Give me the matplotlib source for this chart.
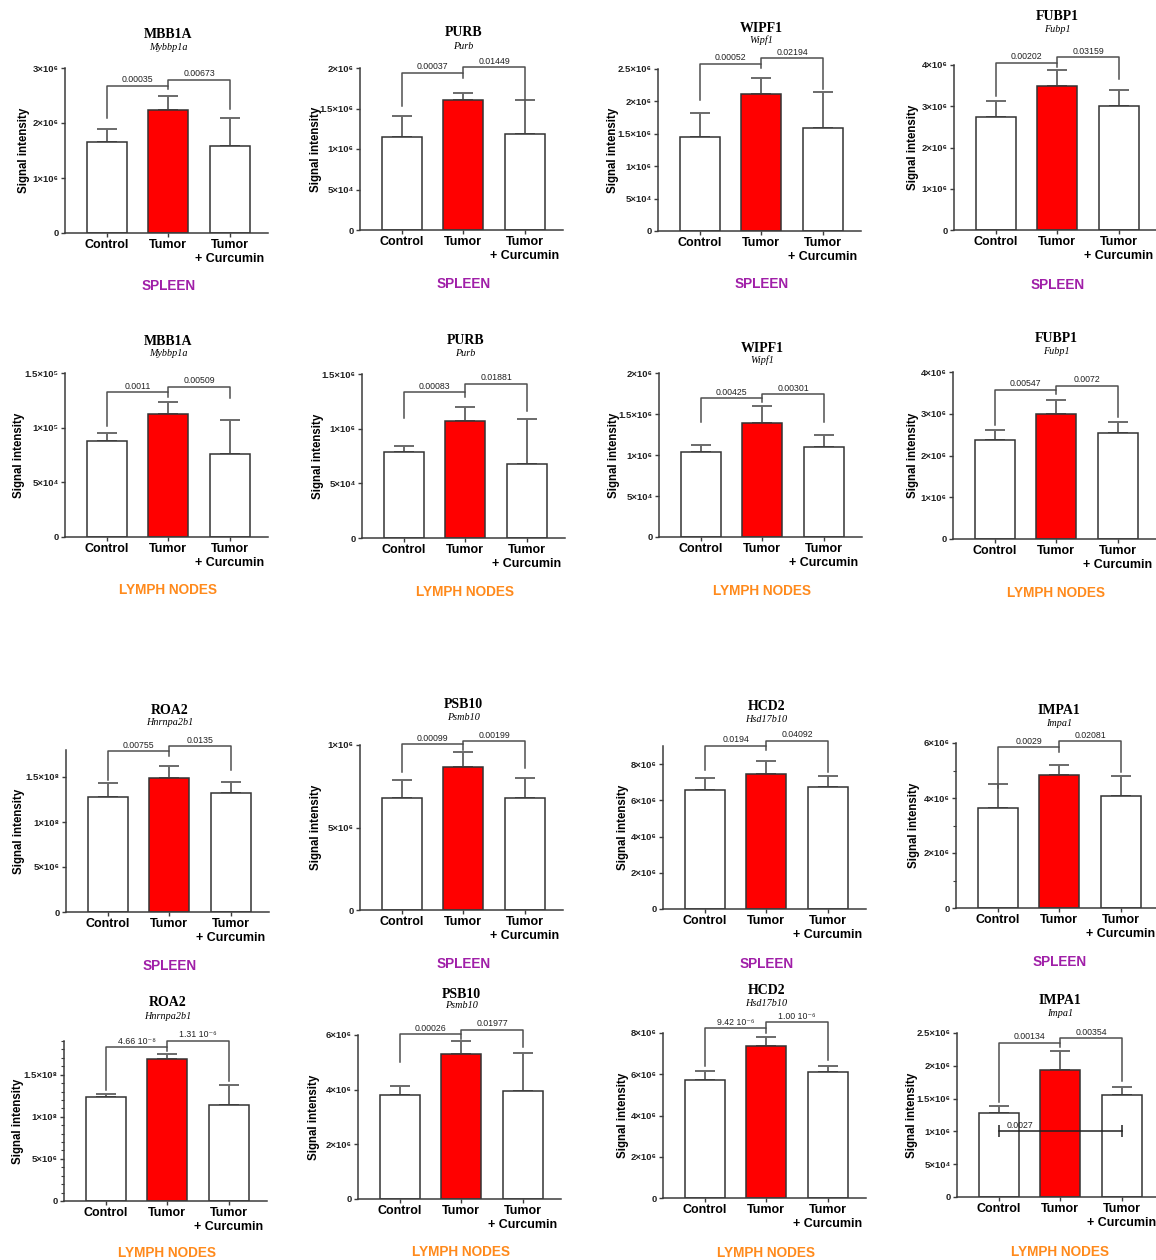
import numpy as np
import matplotlib
matplotlib.use('Agg')
import matplotlib.pyplot as plt
from matplotlib.ticker import MultipleLocator

W, H = 1156, 1260

# panels read row by row (4 columns x 4 rows)
proteins = ['MBB1A', 'PURB', 'WIPF1', 'FUBP1',
            'MBB1A', 'PURB', 'WIPF1', 'FUBP1',
            'ROA2', 'PSB10', 'HCD2', 'IMPA1',
            'ROA2', 'PSB10', 'HCD2', 'IMPA1']
genes = ['Mybbp1a', 'Purb', 'Wipf1', 'Fubp1',
         'Mybbp1a', 'Purb', 'Wipf1', 'Fubp1',
         'Hnrnpa2b1', 'Psmb10', 'Hsd17b10', 'Impa1',
         'Hnrnpa2b1', 'Psmb10', 'Hsd17b10', 'Impa1']
tissues = ['SPLEEN'] * 4 + ['LYMPH NODES'] * 4 + ['SPLEEN'] * 4 + ['LYMPH NODES'] * 4
groups = ['Control', 'Tumor', 'Tumor\n+ Curcumin']

control_mean = [1.66e6, 1.15e6, 1.455e6, 2.74e6,
                0.876e5, 0.787e6, 1.037e6, 2.365e6,
                1.273e8, 0.679e7, 6.57e6, 3.63e6,
                1.234e8, 3.80e6, 5.74e6, 1.28e6]
tumor_mean = [2.24e6, 1.61e6, 2.12e6, 3.48e6,
              1.127e5, 1.07e6, 1.39e6, 3.0e6,
              1.489e8, 0.867e7, 7.44e6, 4.82e6,
              1.687e8, 5.30e6, 7.36e6, 1.936e6]
curcumin_mean = [1.58e6, 1.18e6, 1.59e6, 2.995e6,
                 0.756e5, 0.677e6, 1.10e6, 2.55e6,
                 1.322e8, 0.679e7, 6.72e6, 4.07e6,
                 1.143e8, 3.95e6, 6.12e6, 1.555e6]
control_err = [0.23e6, 0.26e6, 0.36e6, 0.38e6,
               0.073e5, 0.053e6, 0.083e6, 0.245e6,
               0.156e8, 0.109e7, 0.68e6, 0.87e6,
               0.036e8, 0.33e6, 0.41e6, 0.11e6]
tumor_err = [0.26e6, 0.08e6, 0.245e6, 0.41e6,
             0.107e5, 0.128e6, 0.21e6, 0.34e6,
             0.137e8, 0.091e7, 0.71e6, 0.38e6,
             0.059e8, 0.48e6, 0.44e6, 0.294e6]
curcumin_err = [0.52e6, 0.42e6, 0.55e6, 0.395e6,
                0.313e5, 0.41e6, 0.144e6, 0.26e6,
                0.118e8, 0.121e7, 0.64e6, 0.74e6,
                0.238e8, 1.39e6, 0.30e6, 0.125e6]

p_ctrl_tumor = ['0.00035', '0.00037', '0.00052', '0.00202',
                '0.0011', '0.00083', '0.00425', '0.00547',
                '0.00755', '0.00099', '0.0194', '0.0029',
                '4.66 10⁻⁸', '0.00026', '9.42 10⁻⁶', '0.00134']
p_tumor_cur = ['0.00673', '0.01449', '0.02194', '0.03159',
               '0.00509', '0.01881', '0.00301', '0.0072',
               '0.0135', '0.00199', '0.04092', '0.02081',
               '1.31 10⁻⁶', '0.01977', '1.00 10⁻⁶', '0.00354']

y_max = [3e6, 2e6, 2.5e6, 4e6,
         1.5e5, 1.5e6, 2e6, 4e6,
         1.8e8, 1e7, 9e6, 6e6,
         1.9e8, 6e6, 8e6, 2.5e6]
tick_1m = ['0', '1×10⁶', '2×10⁶', '3×10⁶', '4×10⁶']
tick_half = ['0', '5×10⁴', '1×10⁶', '1.5×10⁶', '2×10⁶', '2.5×10⁶']
tick_2m = ['0', '2×10⁶', '4×10⁶', '6×10⁶', '8×10⁶']
tick_roa = ['0', '5×10⁶', '1×10⁸', '1.5×10⁸']
y_ticks = [[0, 1e6, 2e6, 3e6], [0, .5e6, 1e6, 1.5e6, 2e6], [0, .5e6, 1e6, 1.5e6, 2e6, 2.5e6], [0, 1e6, 2e6, 3e6, 4e6],
           [0, .5e5, 1e5, 1.5e5], [0, .5e6, 1e6, 1.5e6], [0, .5e6, 1e6, 1.5e6, 2e6], [0, 1e6, 2e6, 3e6, 4e6],
           [0, .5e8, 1e8, 1.5e8], [0, .5e7, 1e7], [0, 2e6, 4e6, 6e6, 8e6], [0, 2e6, 4e6, 6e6],
           [0, .5e8, 1e8, 1.5e8], [0, 2e6, 4e6, 6e6], [0, 2e6, 4e6, 6e6, 8e6], [0, .5e6, 1e6, 1.5e6, 2e6, 2.5e6]]
y_labels = [tick_1m[:4], tick_half[:5], tick_half, tick_1m,
            ['0', '5×10⁴', '1×10⁵', '1.5×10⁵'], tick_half[:4], tick_half[:5], tick_1m,
            tick_roa, ['0', '5×10⁶', '1×10⁶'], tick_2m, tick_2m[:4],
            tick_roa, tick_2m[:4], tick_2m, tick_half]
minor_step = [None] * 11 + [1e6, 0.1e8, None, None, None]

# extra comparison drawn in the IMPA1 lymph node panel
extra_line_y = 1.01e6
extra_line_p = '0.0027'

# layout in pixels: axis left, axis top, axis bottom, title y, gene y, tissue y, ylabel offset
panel_box = [(65, 68, 233, 35, 47, 286, 35), (360, 68, 230, 33, 46.5, 284, 38),
             (658, 69, 231, 28, 40, 284, 39), (954, 65, 230, 16.5, 29, 285, 35),
             (65, 373, 537, 341.5, 353.5, 590.5, 40), (362, 374, 538, 341, 354, 592, 38),
             (659, 373, 537, 348, 360, 591, 39), (953, 372, 539, 339, 352, 593, 34),
             (66, 750, 912, 710.5, 722.5, 966, 41), (360, 745, 910, 705, 717, 964, 38),
             (663, 746, 909, 706, 719, 964, 34), (956, 743, 908, 710.5, 723, 961.5, 36),
             (64, 1041, 1201, 1003, 1016.5, 1253, 40), (358, 1035, 1199, 994, 1006, 1252, 38),
             (663, 1033, 1198, 990, 1003, 1253, 34), (957, 1033, 1197, 1000.5, 1013, 1252.5, 39)]
# bracket levels as fraction of y_max: left start, left top, left tick end, right top, right end
bracket_frac = [(0.697, 0.893, 0.870, 0.930, 0.750), (0.763, 0.970, 0.938, 1.005, 0.805),
                (0.808, 1.032, 1.008, 1.068, 0.876), (0.813, 1.015, 0.985, 1.048, 0.915),
                (0.678, 0.882, 0.853, 0.917, 0.847), (0.733, 0.890, 0.860, 0.940, 0.773),
                (0.700, 0.848, 0.825, 0.872, 0.700), (0.683, 0.895, 0.870, 0.918, 0.733),
                (0.817, 0.992, 0.961, 1.022, 0.878), (0.836, 1.006, 0.970, 1.024, 0.860),
                (0.852, 1.001, 0.976, 1.032, 0.842), (0.730, 0.973, 0.943, 1.010, 0.827),
                (0.695, 0.963, 0.935, 1.003, 0.747), (0.833, 1.005, 0.975, 1.033, 0.927),
                (0.799, 1.028, 1.000, 1.066, 0.834), (0.580, 0.940, 0.912, 0.968, 0.708)]

SANS = ['Liberation Sans', 'DejaVu Sans']
SERIF = ['Liberation Serif', 'DejaVu Serif']
plt.rcParams['font.family'] = SANS
tissue_color = {'SPLEEN': '#a01fa8', 'LYMPH NODES': '#ff8a1c'}
line_col = '#3c3c3c'
err_col = '#6a6a6a'
step = 61.5
xlo, xhi = -0.68, 2.62
ax_w = (xhi - xlo) * step

fig = plt.figure(figsize=(W / 100, H / 100), dpi=100)
x = np.arange(3)

for i in range(16):
    L, top, bot, ty, gy, sy, yoff = panel_box[i]
    ax = fig.add_axes([L / W, 1 - bot / H, ax_w / W, (bot - top) / H])
    means = [control_mean[i], tumor_mean[i], curcumin_mean[i]]
    errs = [control_err[i], tumor_err[i], curcumin_err[i]]
    ax.bar(x, means, width=0.65, color=['white', '#ff0000', 'white'],
           edgecolor='#333333', linewidth=1.1, zorder=2)
    ax.errorbar(x, means, yerr=[[0, 0, 0], errs], fmt='none', ecolor=err_col,
                elinewidth=1.4, capsize=7, capthick=1.4, zorder=1)
    ax.set_xlim(xlo, xhi)
    ax.set_ylim(0, y_max[i])
    ax.set_yticks(y_ticks[i])
    ax.set_yticklabels(y_labels[i], fontsize=6.8, fontweight='bold', color='#222222')
    if minor_step[i]:
        ax.yaxis.set_minor_locator(MultipleLocator(minor_step[i]))
        ax.tick_params(axis='y', which='minor', length=2, width=0.8, color=line_col)
    ax.set_xticks(x)
    ax.set_xticklabels(groups, fontsize=9, fontweight='bold', linespacing=1.15)
    ax.tick_params(axis='both', which='major', length=3, width=1, color=line_col, pad=1.5)
    for s in ['top', 'right']:
        ax.spines[s].set_visible(False)
    for s in ['left', 'bottom']:
        ax.spines[s].set_color(line_col)
        ax.spines[s].set_linewidth(1.1)
    ax.set_ylabel('Signal intensity', fontsize=8.3, fontweight='bold')
    ax.yaxis.set_label_coords(-yoff / ax_w, 0.5)

    # significance brackets
    ls, lt, lk, rt, re = [f * y_max[i] for f in bracket_frac[i]]
    ax.plot([0, 0, 1, 1], [ls, lt, lt, lk], color='#505050', lw=1.1, clip_on=False, zorder=3)
    ax.plot([1, 1, 2, 2], [lt, rt, rt, re], color='#505050', lw=1.1, clip_on=False, zorder=3)
    ax.annotate(p_ctrl_tumor[i], (0.5, lt), xytext=(0, 1), textcoords='offset points',
                ha='center', va='bottom', fontsize=6.3, color='#222222', annotation_clip=False)
    ax.annotate(p_tumor_cur[i], (1.5, rt), xytext=(0, 1), textcoords='offset points',
                ha='center', va='bottom', fontsize=6.3, color='#222222', annotation_clip=False)
    if i == 15:
        ax.plot([0, 2], [extra_line_y, extra_line_y], color='#222222', lw=1.1,
                marker='|', markersize=8, mew=1.1, zorder=4)
        ax.annotate(extra_line_p, (0.35, extra_line_y), xytext=(0, 0.5), textcoords='offset points',
                    ha='center', va='bottom', fontsize=6.3, color='#222222', zorder=4)

    cx = L + (1 - xlo) * step
    fig.text(cx / W, 1 - ty / H, proteins[i], ha='center', va='center',
             family=SERIF, fontweight='bold', fontsize=10)
    fig.text(cx / W, 1 - gy / H, genes[i], ha='center', va='center',
             family=SERIF, style='italic', fontsize=7.3)
    fig.text(cx / W, 1 - sy / H, tissues[i], ha='center', va='center',
             fontweight='bold', fontsize=9.8, color=tissue_color[tissues[i]])

fig.savefig('out.png', dpi=100, facecolor='white')
